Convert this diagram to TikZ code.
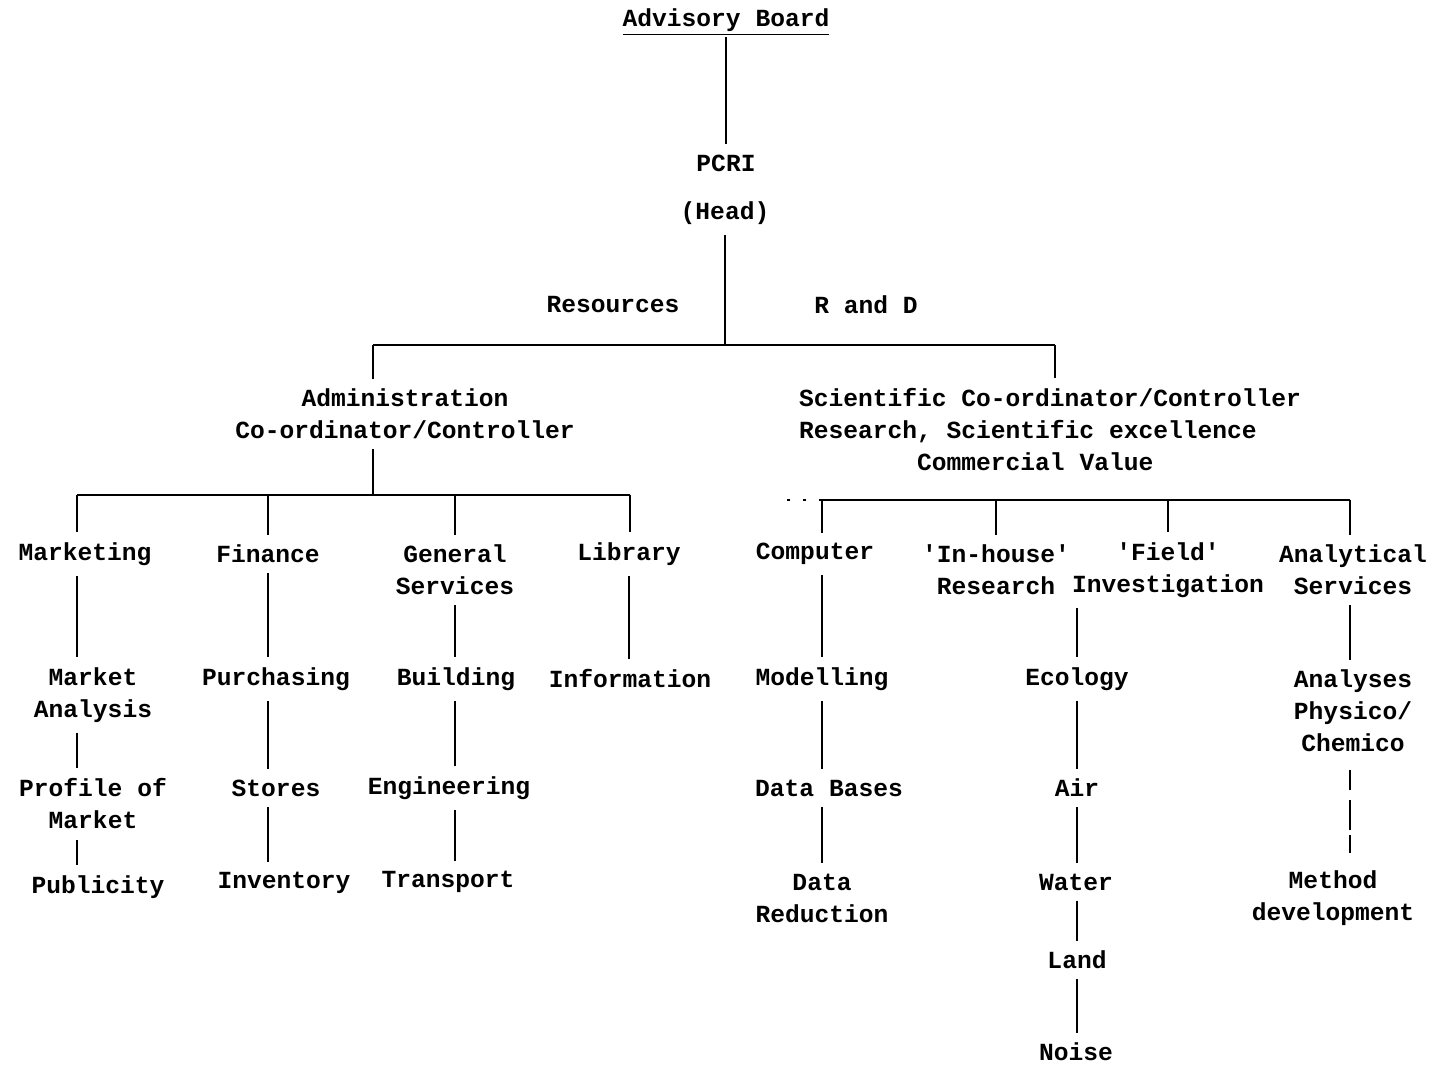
\documentclass[tikz,border=0pt]{standalone}
\usepackage{fontspec}
\setmonofont{Liberation Mono}
\usepackage{tikz}

\begin{document}
\begin{tikzpicture}[x=0.02cm, y=-0.02cm,
  orgbox/.style={align=center, font=\ttfamily\bfseries\fontsize{14}{18.2}\selectfont,
    inner xsep=2pt, inner ysep=0.2cm},
  orgline/.style={line width=1.5pt, draw=black}
]
\useasboundingbox (0,0) rectangle (1442,1067);

% top of the chart
\node[orgbox, inner ysep=1pt] (adv) at (726,22) {\underline{Advisory Board}};
\node[orgbox] (pcri) at (726,163) {PCRI};
\node[orgbox] (head) at (725,213) {(Head)};
\node[orgbox] (res)  at (613,305) {Resources};
\node[orgbox] (rnd)  at (866,305) {R and D};

\node[orgbox] (admin) at (405,414) {Administration\\Co-ordinator/Controller};
\node[orgbox, align=left] (sci) at (1050,430)
  {Scientific Co-ordinator/Controller\\Research, Scientific excellence\\\phantom{xxxxxxxx}Commercial Value};

% resources side
\node[orgbox] (mkt)   at (85,554)  {Marketing};
\node[orgbox] (fin)   at (268,554) {Finance};
\node[orgbox] (gen)   at (455,570) {General\\Services};
\node[orgbox] (lib)   at (629,554) {Library};
\node[orgbox] (mktan) at (93,695)  {Market\\Analysis};
\node[orgbox] (pur)   at (276,679) {Purchasing};
\node[orgbox] (bld)   at (456,679) {Building};
\node[orgbox] (inf)   at (630,679) {Information};
\node[orgbox] (prof)  at (93,804)  {Profile of\\Market};
\node[orgbox] (sto)   at (276,788) {Stores};
\node[orgbox] (eng)   at (449,788) {Engineering};
\node[orgbox] (pub)   at (98,887)  {Publicity};
\node[orgbox] (inv)   at (284,883) {Inventory};
\node[orgbox] (trn)   at (448,882) {Transport};

% R and D side
\node[orgbox] (comp) at (815,554)  {Computer};
\node[orgbox] (inh)  at (996,570)  {'In-house'\\Research};
\node[orgbox] (fld)  at (1168,570) {'Field'\\Investigation};
\node[orgbox] (anl)  at (1353,570) {Analytical\\Services};
\node[orgbox] (mod)  at (822,679)  {Modelling};
\node[orgbox] (dbs)  at (829,788)  {Data Bases};
\node[orgbox] (drd)  at (822,898)  {Data\\Reduction};
\node[orgbox] (eco)  at (1077,679) {Ecology};
\node[orgbox] (air)  at (1077,788) {Air};
\node[orgbox] (wat)  at (1076,882) {Water};
\node[orgbox] (lnd)  at (1077,960) {Land};
\node[orgbox] (noi)  at (1076,1052) {Noise};
\node[orgbox] (ana)  at (1353,711) {Analyses\\Physico/\\Chemico};
\node[orgbox] (met)  at (1333,898) {Method\\development};

% bars
\coordinate (tbarL) at (373,345);
\coordinate (tbarR) at (1055,345);
\coordinate (abarL) at (77,495);
\coordinate (abarR) at (630,495);
\coordinate (sbarL) at (822,500);
\coordinate (sbarR) at (1350,500);

\draw[orgline] (adv.south) -- (adv.south |- pcri.north);
\draw[orgline] (head.south) -- (head.south |- tbarL);
\draw[orgline] (tbarL) -- (tbarR);
\draw[orgline] (tbarL) -- (tbarL |- admin.north);
\draw[orgline] (tbarR) -- (tbarR |- sci.north);

\draw[orgline] (admin.south -| tbarL) -- (tbarL |- abarL);
\draw[orgline] (abarL) -- (abarR);
\draw[orgline] (abarL) -- (abarL |- mkt.north);
\draw[orgline] (fin.north |- abarL) -- (fin.north);
\draw[orgline] (gen.north |- abarL) -- (gen.north);
\draw[orgline] (abarR) -- (abarR |- lib.north);

\draw[orgline] (sbarL) -- (sbarR);
\draw[orgline, dash pattern=on 2pt off 7pt] (sbarL) -- ++(-36,0);
\draw[orgline] (sbarL) -- (sbarL |- comp.north);
\draw[orgline] (inh.north |- sbarL) -- (inh.north);
\draw[orgline] (fld.north |- sbarL) -- (fld.north);
\draw[orgline] (sbarR) -- (sbarR |- anl.north);

% resources columns
\draw[orgline] (mkt.south -| abarL) -- (abarL |- mktan.north);
\draw[orgline] (mktan.south -| abarL) -- (abarL |- prof.north);
\draw[orgline] (prof.south -| abarL) -- (abarL |- pub.north);
\draw[orgline] (fin.south) -- (fin.south |- pur.north);
\draw[orgline] (pur.south -| fin) -- (fin |- sto.north);
\draw[orgline] (sto.south -| fin) -- (fin |- inv.north);
\draw[orgline] (gen.south) -- (gen.south |- bld.north);
\draw[orgline] (bld.south -| gen) -- (gen |- eng.north);
\draw[orgline] (eng.south -| gen) -- (gen |- trn.north);
\draw[orgline] (lib.south) -- (lib.south |- inf.north);

% R and D columns
\draw[orgline] (comp.south -| sbarL) -- (sbarL |- mod.north);
\draw[orgline] (mod.south -| sbarL) -- (sbarL |- dbs.north);
\draw[orgline] (dbs.south -| sbarL) -- (sbarL |- drd.north);
\draw[orgline] (eco.north |- fld.south) -- (eco.north);
\draw[orgline] (eco.south) -- (eco.south |- air.north);
\draw[orgline] (air.south -| eco) -- (eco |- wat.north);
\draw[orgline] (wat.south -| eco) -- (eco |- lnd.north);
\draw[orgline] (lnd.south -| eco) -- (eco |- noi.north);
\draw[orgline] (anl.south -| sbarR) -- (sbarR |- ana.north);
\draw[orgline, dash pattern=on 0.4cm off 0.2cm on 0.6cm off 0.1cm, shorten <=0.15cm, shorten >=0.15cm]
  (ana.south -| sbarR) -- (sbarR |- met.north);

\end{tikzpicture}
\end{document}
